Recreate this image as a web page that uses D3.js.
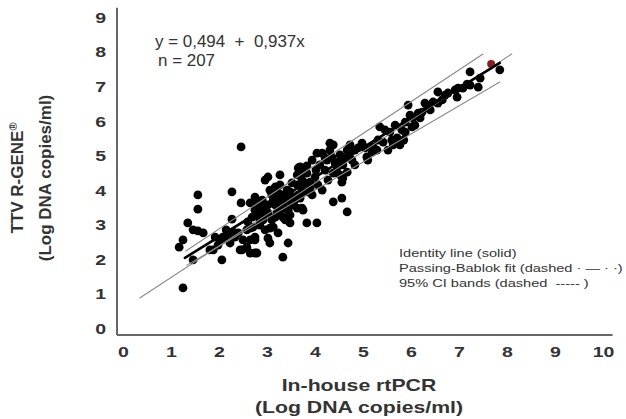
<!DOCTYPE html>
<html>
<head>
<meta charset="utf-8">
<script src="https://cdn.jsdelivr.net/npm/d3@7"></script>
<style>
  body { margin: 0; background: #fff; }
  svg { display: block; font-family: "Liberation Sans", Arial, sans-serif; }
</style>
</head>
<body>
<svg id="chart" width="626" height="419"></svg>
<script>

//
// DATA
//

// in-house rtPCR (x) vs TTV R-GENE (y), log copies/ml
const xValues = [
    1.56,1.56,1.35,1.46,1.56,1.67,1.25,1.17,1.81,1.88,1.46,2.06,1.25,2.46,2.27,2.46,2.65,2.27,2.08,2.06,
    2.17,2.23,2.33,2.40,2.29,2.58,2.65,2.71,2.69,2.79,2.85,2.50,2.65,2.75,2.23,2.48,2.58,2.65,2.79,2.44,
    2.15,1.92,1.98,3.02,2.96,3.06,3.10,3.17,3.27,3.23,3.42,3.48,3.63,3.73,3.79,3.85,2.75,2.81,2.90,2.75,
    2.96,2.92,3.02,3.10,3.17,3.13,3.23,3.31,3.38,3.44,3.33,3.48,3.63,3.73,3.83,4.04,3.02,3.06,3.23,3.44,
    3.33,2.75,2.75,2.85,2.96,3.06,2.90,3.02,3.17,3.27,3.38,3.48,3.52,3.58,3.69,3.21,2.92,3.38,3.52,3.27,
    4.31,4.04,4.15,3.94,3.65,3.63,3.83,3.73,3.79,3.90,4.00,4.15,4.38,4.56,4.67,4.38,4.31,4.35,4.42,4.46,
    4.38,4.52,4.58,4.56,4.67,4.67,4.73,4.83,4.63,4.77,4.52,4.48,4.83,3.83,3.75,3.69,4.25,4.21,4.06,4.27,
    3.94,3.75,4.98,4.90,5.04,5.19,5.21,5.29,5.31,5.35,5.46,5.56,5.71,5.77,5.81,5.88,5.88,5.98,6.15,5.94,
    5.08,5.42,5.67,5.60,6.08,6.02,5.85,6.19,6.29,6.35,6.46,6.56,6.56,6.65,6.77,6.92,6.98,6.96,7.23,7.23,
    7.40,7.85,7.08,7.17,7.44,6.71,6.40,6.23,6.04,5.63,5.52,5.10,2.81,2.60,3.54,3.65,3.90,4.02,4.10,4.21,
    4.58,3.31,3.44,3.13,2.85,4.73
];
const yValues = [
    3.85,3.44,3.04,2.84,2.81,2.75,2.55,2.34,2.26,2.26,1.97,1.97,1.16,5.24,3.94,3.62,3.62,3.15,2.63,2.55,
    2.69,2.60,2.63,2.75,2.78,2.84,2.89,2.92,3.21,3.41,3.13,2.55,2.55,2.55,2.46,2.26,2.34,2.17,2.17,2.26,
    2.84,2.63,2.40,4.37,4.28,3.99,3.85,4.08,4.14,3.91,3.99,3.94,4.14,3.99,3.94,3.94,3.79,3.62,3.50,3.41,
    3.41,3.21,3.33,3.13,3.21,2.92,3.70,3.56,3.47,3.41,3.21,3.04,3.47,3.47,3.04,3.04,2.60,2.46,2.75,2.46,
    2.05,2.63,2.17,2.98,2.84,2.89,3.70,3.56,3.56,3.36,3.13,3.27,3.56,3.70,3.76,3.33,3.13,3.79,4.20,4.43,
    5.35,5.06,5.06,4.86,4.63,4.43,4.48,4.28,4.20,4.22,4.37,3.99,3.65,3.76,3.36,5.30,5.15,4.95,4.77,4.63,
    4.48,4.43,4.34,4.22,4.51,5.15,5.06,5.15,4.92,4.86,5.01,4.80,4.72,4.69,4.48,4.66,4.86,4.57,4.14,4.28,
    3.85,3.41,5.35,5.21,5.21,5.09,5.24,5.15,5.44,5.82,5.73,5.67,5.50,5.30,5.73,5.67,5.96,6.16,6.22,6.45,
    4.95,5.38,5.87,5.44,5.87,5.82,5.44,6.08,6.51,6.39,6.54,6.51,6.83,6.60,6.80,6.89,6.94,6.68,7.41,7.03,
    6.97,7.47,6.94,7.06,7.23,6.74,6.31,6.25,6.08,5.30,5.15,4.86,3.27,3.07,3.76,3.85,4.05,4.57,4.72,4.92,
    4.72,3.85,3.70,3.70,3.36,5.30
];

// single sample marked in red
const highlightX = [7.67];
const highlightY = [7.64];

// line segments [x0, y0, x1, y1]
const fitLine   = [0.35, 0.87, 8.10, 7.93];
const upperBand = [1.31, 2.23, 7.50, 7.93];
const lowerBand = [1.33, 1.82, 7.85, 7.12];
const thickLine = [1.29, 2.03, 7.85, 7.67];

const xTicks = [0,1,2,3,4,5,6,7,8,9,10];
const yTicks = [0,1,2,3,4,5,6,7,8,9];

const equationText = 'y = 0,494  +  0,937x';
const nText = 'n = 207';
const legendLines = [
    'Identity line (solid)',
    'Passing-Bablok fit (dashed \u00b7 \u2014 \u00b7 \u00b7)',
    '95% CI bands (dashed  ----- )'
];

//
// CHART
//

const svg = d3.select('#chart');
const font = '"Liberation Sans", Arial, sans-serif';
const stretch = 1.27; // text in the source looks wider than it is tall

const x = d3.scaleLinear()
    .domain([0, 10])
    .range([123, 603]);
const y = d3.scaleLinear()
    .domain([0, 9])
    .range([328, 17]);

// axis frame lines
svg.append('line')
    .attr('x1', x(-0.125)).attr('x2', x(-0.125))
    .attr('y1', y(9.27)).attr('y2', y(-0.2))
    .attr('stroke', '#666')
    .attr('stroke-width', 2);
svg.append('line')
    .attr('x1', x(-0.125)).attr('x2', x(10.2))
    .attr('y1', y(-0.2)).attr('y2', y(-0.2))
    .attr('stroke', '#666')
    .attr('stroke-width', 2);

// tick labels
const xAxis = svg.append('g')
    .attr('transform', `translate(0, ${y(0) + 29})`)
    .call(d3.axisBottom(x).tickValues(xTicks).tickSize(0).tickFormat(d3.format('d')));
xAxis.select('.domain').remove();
xAxis.selectAll('text')
    .attr('dy', 0)
    .attr('y', 0)
    .attr('transform', 'scale(1.3,1)')
    .style('font-family', font)
    .style('font-size', '15px')
    .style('font-weight', 'bold')
    .style('fill', '#333');

const yAxis = svg.append('g')
    .attr('transform', `translate(106, 0)`)
    .call(d3.axisLeft(y).tickValues(yTicks).tickSize(0).tickFormat(d3.format('d')));
yAxis.select('.domain').remove();
yAxis.selectAll('text')
    .attr('x', 0)
    .attr('dy', '0.36em')
    .attr('transform', 'scale(1.3,1)')
    .style('font-family', font)
    .style('font-size', '15px')
    .style('font-weight', 'bold')
    .style('fill', '#333');

// points
const points = xValues.map((v, i) => [v, yValues[i]]);
svg.append('g')
    .selectAll('circle')
    .data(points)
    .join('circle')
        .attr('cx', d => x(d[0]))
        .attr('cy', d => y(d[1]))
        .attr('r', 4.4)
        .attr('fill', '#000');

svg.append('g')
    .selectAll('circle')
    .data(highlightX.map((v, i) => [v, highlightY[i]]))
    .join('circle')
        .attr('cx', d => x(d[0]))
        .attr('cy', d => y(d[1]))
        .attr('r', 4)
        .attr('fill', '#8a1c1c');

// lines
const segs = [
    {s: fitLine,   color: '#8a8a8a', w: 1.1},
    {s: upperBand, color: '#8a8a8a', w: 1.1},
    {s: lowerBand, color: '#8a8a8a', w: 1.1},
    {s: thickLine, color: '#000',    w: 2.6}
];
svg.append('g')
    .selectAll('line')
    .data(segs)
    .join('line')
        .attr('x1', d => x(d.s[0]))
        .attr('y1', d => y(d.s[1]))
        .attr('x2', d => x(d.s[2]))
        .attr('y2', d => y(d.s[3]))
        .attr('stroke', d => d.color)
        .attr('stroke-width', d => d.w)
        .attr('stroke-linecap', 'round');

// equation
svg.append('text')
    .attr('transform', 'translate(155, 47) scale(1.06,1)')
    .style('white-space', 'pre')
    .style('font-size', '16px')
    .style('fill', '#333')
    .text(equationText);
svg.append('text')
    .attr('transform', 'translate(158, 66) scale(1.06,1)')
    .style('font-size', '16px')
    .style('fill', '#333')
    .text(nText);

// legend text
svg.append('g')
    .selectAll('text')
    .data(legendLines)
    .join('text')
        .attr('transform', (d, i) => `translate(399, ${257 + i * 15}) scale(${stretch},1)`)
        .style('white-space', 'pre')
        .style('font-size', '11.5px')
        .style('fill', '#333')
        .text(d => d);

// axis titles
const xTitle = svg.append('text')
    .attr('transform', `translate(359, 0) scale(1.25,1)`)
    .attr('text-anchor', 'middle')
    .style('font-size', '17px')
    .style('font-weight', 'bold')
    .style('fill', '#333');
xTitle.append('tspan').attr('x', 0).attr('y', 391).text('In-house rtPCR');
xTitle.append('tspan').attr('x', 0).attr('y', 413).text('(Log DNA copies/ml)');

const yTitle = svg.append('text')
    .attr('transform', 'translate(0, 178) rotate(-90)')
    .attr('text-anchor', 'middle')
    .style('font-size', '17px')
    .style('font-weight', 'bold')
    .style('fill', '#333');
const t1 = yTitle.append('tspan').attr('x', 0).attr('y', 23).text('TTV R-GENE');
t1.append('tspan').attr('dy', -6).style('font-size', '11px').text('\u00ae');
yTitle.append('tspan').attr('x', 0).attr('y', 51).text('(Log DNA copies/ml)');

</script>
</body>
</html>
